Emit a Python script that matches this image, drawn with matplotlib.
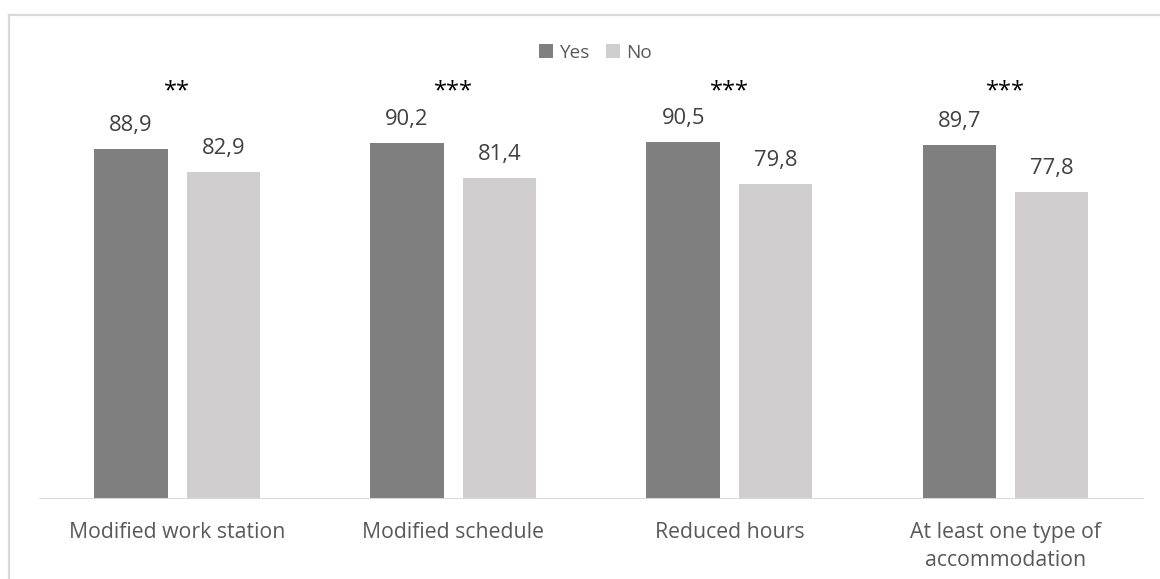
import matplotlib
matplotlib.use("Agg")
import matplotlib.pyplot as plt
from matplotlib.lines import Line2D

plt.rcParams['font.family'] = ['Open Sans', 'DejaVu Sans']

categories = ["Modified work station", "Modified schedule", "Reduced hours",
              "At least one type of\naccommodation"]
yes_values = [88.9, 90.2, 90.5, 89.7]
no_values = [82.9, 81.4, 79.8, 77.8]
significance = ["**", "***", "***", "***"]
series_names = ["Yes", "No"]

W, H = 1160, 579
fig = plt.figure(figsize=(W / 100, H / 100), dpi=100)
fig.patch.set_facecolor('white')

def fx(px):
    return px / W

def fy(py):
    return 1 - py / H

ax_left, ax_right, ax_bottom, ax_top = 39, 1143.6, 499.3, 104.8
ax = fig.add_axes([fx(ax_left), fy(ax_bottom), fx(ax_right - ax_left), (ax_bottom - ax_top) / H])
ax.set_xlim(-0.5, 3.5)
ax.set_ylim(0, 100)

yes_color = '#7f7f7f'
no_color = '#d0cece'
bw = 0.266
off = 0.1673
xs = list(range(len(categories)))
b1 = ax.bar([x - off for x in xs], yes_values, width=bw, color=yes_color, label=series_names[0], zorder=2)
b2 = ax.bar([x + off for x in xs], no_values, width=bw, color=no_color, label=series_names[1], zorder=2)

lab_pt = 15.8
for x, v in zip(xs, yes_values):
    ax.annotate(f"{v:.1f}".replace('.', ','), (x - off, v), xytext=(0, 12.96), textcoords='offset points',
                ha='center', va='baseline', fontsize=lab_pt, color='#404040')
for x, v in zip(xs, no_values):
    ax.annotate(f"{v:.1f}".replace('.', ','), (x + off, v), xytext=(0, 12.96), textcoords='offset points',
                ha='center', va='baseline', fontsize=lab_pt, color='#404040')

for x, s in zip(xs, significance):
    ax.annotate(s, (x, 100), xytext=(0, 5), textcoords='offset points', ha='center', va='baseline',
                fontsize=17, color='black', annotation_clip=False)

for sp in ax.spines.values():
    sp.set_visible(False)
ax.axhline(0, color='#d9d9d9', lw=1.4, zorder=3)
ax.set_yticks([])
ax.set_xticks([])
for x, c in zip(xs, categories):
    ax.annotate(c, (x, 0), xytext=(0, -16.5), textcoords='offset points', ha='center', va='top',
                fontsize=15.3, color='#595959', linespacing=1.45, annotation_clip=False)

leg = fig.legend(handles=[b1, b2], labels=series_names, loc='center', bbox_to_anchor=(fx(595.5), fy(52.5)),
                 ncol=2, frameon=False, fontsize=13.7, handlelength=0.72, handleheight=0.72,
                 handletextpad=0.33, columnspacing=0.84, borderpad=0, labelcolor='#595959')

# outer chart border (extends beyond right and bottom of image)
fig.add_artist(Line2D([fx(9), 1.0], [fy(14.5), fy(14.5)], color='#d9d9d9', lw=1.6, transform=fig.transFigure))
fig.add_artist(Line2D([fx(9), fx(9)], [fy(14.5), 0.0], color='#d9d9d9', lw=1.6, transform=fig.transFigure))

fig.savefig('out.png', dpi=100, facecolor='white')
